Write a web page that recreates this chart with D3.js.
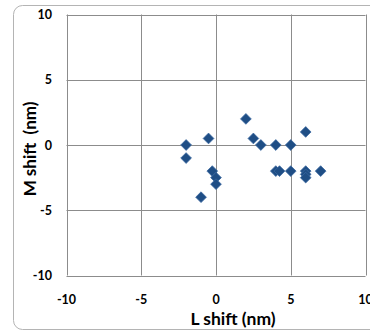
<!DOCTYPE html>
<html>
<head>
<meta charset="utf-8">
<script src="https://cdn.jsdelivr.net/npm/d3@7"></script>
<style>
  body { margin: 0; background: #fff; }
  text { font-family: Lato, "Open Sans", sans-serif; font-weight: bold; fill: #000; }
</style>
</head>
<body>
<div id="chart"></div>
<script>
// L shift vs M shift (nm)
const lShift = [-2, -2, -0.5, -1, -0.25, 0, 0, 2, 2.5, 3, 4, 5, 6, 4, 4.25, 5, 6, 6, 6, 7];
const mShift = [0, -1, 0.5, -4, -2, -2.5, -3, 2, 0.5, 0, 0, 0, 1, -2, -2, -2, -2, -2.25, -2.5, -2];
const ticks = [-10, -5, 0, 5, 10];

const points = lShift.map((l, i) => ({ l: l, m: mShift[i] }));

var width = 370, height = 332;

var svg = d3
  .select("#chart")
  .append("svg")
  .attr("width", width)
  .attr("height", height);

// outer chart frame
svg
  .append("rect")
  .attr("x", 13.5)
  .attr("y", 5.5)
  .attr("width", 400)
  .attr("height", 324)
  .attr("rx", 9)
  .attr("fill", "none")
  .attr("stroke", "#b4b4b4");

var x = d3.scaleLinear().domain([-10, 10]).range([66.5, 365.5]);
var y = d3.scaleLinear().domain([-10, 10]).range([275.5, 14.5]);

// grid
svg
  .append("g")
  .selectAll("line")
  .data(ticks)
  .enter()
  .append("line")
  .attr("x1", (d) => Math.round(x(d)) + 0.5)
  .attr("x2", (d) => Math.round(x(d)) + 0.5)
  .attr("y1", y(-10))
  .attr("y2", y(10))
  .attr("stroke", "#8c8c8c");

svg
  .append("g")
  .selectAll("line")
  .data(ticks)
  .enter()
  .append("line")
  .attr("x1", x(-10))
  .attr("x2", x(10))
  .attr("y1", (d) => Math.round(y(d)) + 0.5)
  .attr("y2", (d) => Math.round(y(d)) + 0.5)
  .attr("stroke", "#8c8c8c");

// tick labels
svg
  .append("g")
  .selectAll("text")
  .data(ticks)
  .enter()
  .append("text")
  .attr("x", (d) => x(d))
  .attr("y", 304)
  .attr("text-anchor", "middle")
  .style("font-size", "12.5px")
  .text((d) => d);

svg
  .append("g")
  .selectAll("text")
  .data(ticks)
  .enter()
  .append("text")
  .attr("x", 52)
  .attr("y", (d) => y(d) + 4.5)
  .attr("text-anchor", "end")
  .style("font-size", "12.5px")
  .text((d) => d);

// axis titles
svg
  .append("text")
  .attr("x", 233)
  .attr("y", 325)
  .attr("text-anchor", "middle")
  .style("font-size", "17.5px")
  .text("L shift (nm)");

svg
  .append("text")
  .attr("transform", "translate(36,149) rotate(-90)")
  .attr("text-anchor", "middle")
  .style("font-size", "17px")
  .style("white-space", "pre")
  .text("M shift  (nm)");

// markers
var diamond = d3.symbol().type(d3.symbolSquare).size(58);

svg
  .selectAll(".dot")
  .data(points)
  .enter()
  .append("path")
  .attr("class", "dot")
  .attr("d", diamond)
  .attr("transform", (d) => `translate(${x(d.l)},${y(d.m)}) rotate(45)`)
  .attr("fill", "#1f4e85")
  .attr("stroke", "#3a68a0")
  .attr("stroke-width", 0.7);
</script>
</body>
</html>
